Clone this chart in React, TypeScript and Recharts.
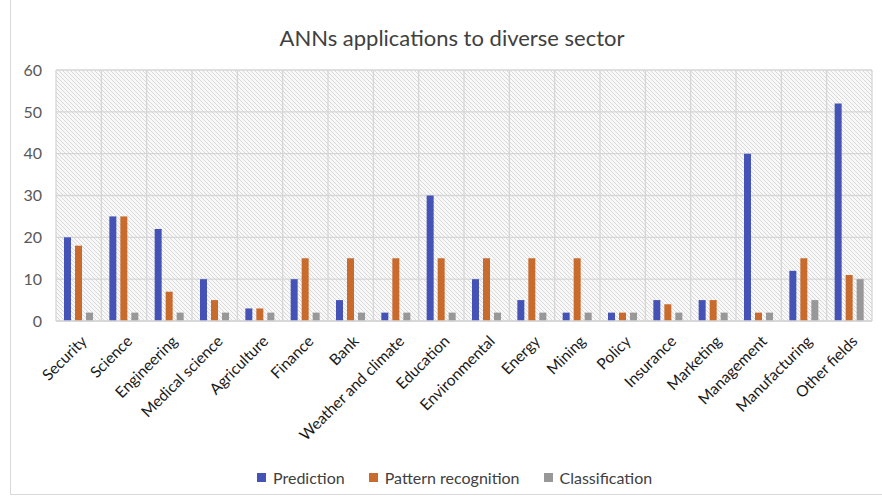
import React from "react";
import { BarChart, Bar, XAxis, YAxis, CartesianGrid, Legend } from "recharts";

const categories = [
  "Security", "Science", "Engineering", "Medical science", "Agriculture", "Finance", "Bank",
  "Weather and climate", "Education", "Environmental", "Energy", "Mining", "Policy",
  "Insurance", "Marketing", "Management", "Manufacturing", "Other fields",
];
const prediction = [20, 25, 22, 10, 3, 10, 5, 2, 30, 10, 5, 2, 2, 5, 5, 40, 12, 52];
const patternRecognition = [18, 25, 7, 5, 3, 15, 15, 15, 15, 15, 15, 15, 2, 4, 5, 2, 15, 11];
const classification = [2, 2, 2, 2, 2, 2, 2, 2, 2, 2, 2, 2, 2, 2, 2, 2, 5, 10];
const yTicks = [0, 10, 20, 30, 40, 50, 60];

const seriesNames = ["Prediction", "Pattern recognition", "Classification"];
const colors = ["#4553B6", "#C86B2C", "#989898"];

const data = categories.map((c, i) => ({
  name: c,
  prediction: prediction[i],
  pattern: patternRecognition[i],
  classification: classification[i],
}));

const FONT = "Lato, 'Open Sans', sans-serif";

const XTick = (props: any) => {
  const { x, y, payload } = props;
  const ax = x + 5;
  const ay = y + 9;
  return (
    <text
      x={ax}
      y={ay}
      transform={`rotate(-45, ${ax}, ${ay})`}
      textAnchor="end"
      dominantBaseline="central"
      fontSize={15.5}
      fontFamily={FONT}
      fill="#1a1a1a"
    >
      {payload.value}
    </text>
  );
};

const LegendContent = () => (
  <div style={{ display: "flex", justifyContent: "flex-start", alignItems: "center", fontFamily: FONT, fontSize: 16, color: "#404040", paddingLeft: 257 }}>
    {seriesNames.map((n, i) => (
      <div key={n} style={{ display: "flex", alignItems: "center", marginRight: i < 2 ? 24 : 0 }}>
        <span style={{ width: 9, height: 9, background: colors[i], display: "inline-block", marginRight: 7 }} />
        <span>{n}</span>
      </div>
    ))}
  </div>
);

export default function App() {
  return (
    <div style={{ position: "absolute", left: 0, top: 0, width: 882, height: 496, background: "#fff", overflow: "hidden" }}>
      <svg width={0} height={0} style={{ position: "absolute" }}>
        <defs>
          <pattern id="hatch" width={4} height={4} patternUnits="userSpaceOnUse">
            <rect width={4} height={4} fill="#f8f8f8" />
            <path d="M-1,-1 L5,5 M-1,3 L1,5 M3,-1 L5,1" stroke="#d6d6d6" strokeWidth={0.9} />
          </pattern>
        </defs>
      </svg>
      <div style={{ position: "absolute", left: 10, top: -2, width: 880, height: 497, border: "1px solid #d9d9d9", boxSizing: "border-box" }} />
      <div style={{ position: "absolute", left: 0, width: 882, top: 24, textAlign: "center", fontFamily: FONT, fontSize: 22, color: "#404040", paddingLeft: 22, boxSizing: "border-box" }}>
        ANNs applications to diverse sector
      </div>
      <div style={{ position: "absolute", left: 0, top: 0 }}>
        <BarChart
          width={882}
          height={496}
          data={data}
          margin={{ top: 70, right: 10, left: 0, bottom: 46 }}
          barSize={7}
          barGap={4}
        >
          <CartesianGrid
            stroke="#d6d6d6"
            strokeWidth={1.3}
            fill="url(#hatch)"
            verticalCoordinatesGenerator={({ offset }: any) =>
              categories.map((_, i) => offset.left + (i * offset.width) / categories.length).concat([offset.left + offset.width])
            }
          />
          <XAxis
            dataKey="name"
            interval={0}
            tick={<XTick />}
            tickLine={false}
            axisLine={{ stroke: "#d6d6d6", strokeWidth: 1.3 }}
            height={110}
          />
          <YAxis
            domain={[0, 60]}
            ticks={yTicks}
            width={56}
            axisLine={false}
            tickLine={false}
            tick={{ fontSize: 16, fontFamily: FONT, fill: "#595959" }}
            tickMargin={8}
          />
          <Legend verticalAlign="bottom" content={<LegendContent />} wrapperStyle={{ bottom: 9, left: 0, width: 882 }} />
          <Bar dataKey="prediction" name={seriesNames[0]} fill={colors[0]} isAnimationActive={false} />
          <Bar dataKey="pattern" name={seriesNames[1]} fill={colors[1]} isAnimationActive={false} />
          <Bar dataKey="classification" name={seriesNames[2]} fill={colors[2]} isAnimationActive={false} />
        </BarChart>
      </div>
    </div>
  );
}
